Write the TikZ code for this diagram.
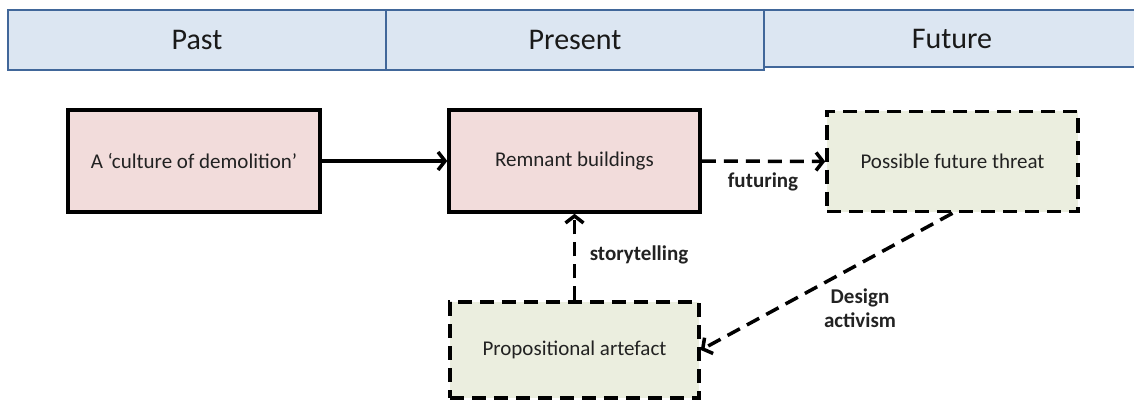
\documentclass[tikz,border=0pt]{standalone}
\usepackage{fontspec}
\setmainfont{Carlito}
\usetikzlibrary{arrows.meta}
\definecolor{hdrfill}{HTML}{DCE6F2}
\definecolor{hdrline}{HTML}{41679A}
\definecolor{pinkfill}{HTML}{F2DCDB}
\definecolor{greenfill}{HTML}{EBEEDF}
\definecolor{txt}{HTML}{222222}
\tikzset{
  hdr/.style={draw=hdrline, fill=hdrfill, line width=2.8pt, inner sep=0pt,
    text=black!90, font=\fontsize{30}{36}\selectfont},
  solidbox/.style={draw=black, fill=pinkfill, line width=3.5pt, inner sep=0pt,
    text=txt, font=\fontsize{21}{25}\selectfont},
  dashbox/.style={draw=black, fill=greenfill, line width=3.5pt, inner sep=0pt,
    dash pattern=on 14pt off 8pt, text=txt, font=\fontsize{21}{25}\selectfont},
  conn/.style={line width=3.5pt, -{Straight Barb[length=7pt,width=18pt]}},
  dconn/.style={conn, dash pattern=on 14pt off 8pt},
  lbl/.style={font=\bfseries\fontsize{21}{24}\selectfont, text=txt, inner sep=0pt, align=center}
}
\begin{document}
\begin{tikzpicture}[x=1pt,y=-1pt]
\useasboundingbox (0,0) rectangle (1134,401);
% headers
\node[hdr, minimum width=378pt, minimum height=60pt] (past) at (197,40) {Past};
\node[hdr, minimum width=378pt, minimum height=60pt] (present) at (575,40) {Present};
\node[hdr, minimum width=376pt, minimum height=57pt] (future) at (952,38.5) {Future};
% boxes
\node[solidbox, minimum width=252pt, minimum height=102pt] (culture) at (194,161) {A ‘culture of demolition’};
\node[solidbox, minimum width=251pt, minimum height=102pt] (remnant) at (574.5,161) {Remnant buildings};
\node[dashbox, minimum width=251pt, minimum height=100pt] (threat) at (952.5,161.5) {Possible future threat};
\node[dashbox, minimum width=249pt, minimum height=96pt] (artefact) at (574.5,350) {Propositional artefact};
% connectors
\draw[conn] (culture) -- (remnant);
\draw[dconn] (remnant.east) -- (threat.west);
\draw[dconn] (artefact.north) -- (remnant.south);
\draw[dconn] (threat.south) -- (artefact.east);
% labels
\node[lbl] (lfut) at (763,182) {futuring};
\node[lbl] (lstory) at (639,255) {storytelling};
\node[lbl] (ldesign) at (860,308) {Design\\activism};
\end{tikzpicture}
\end{document}
